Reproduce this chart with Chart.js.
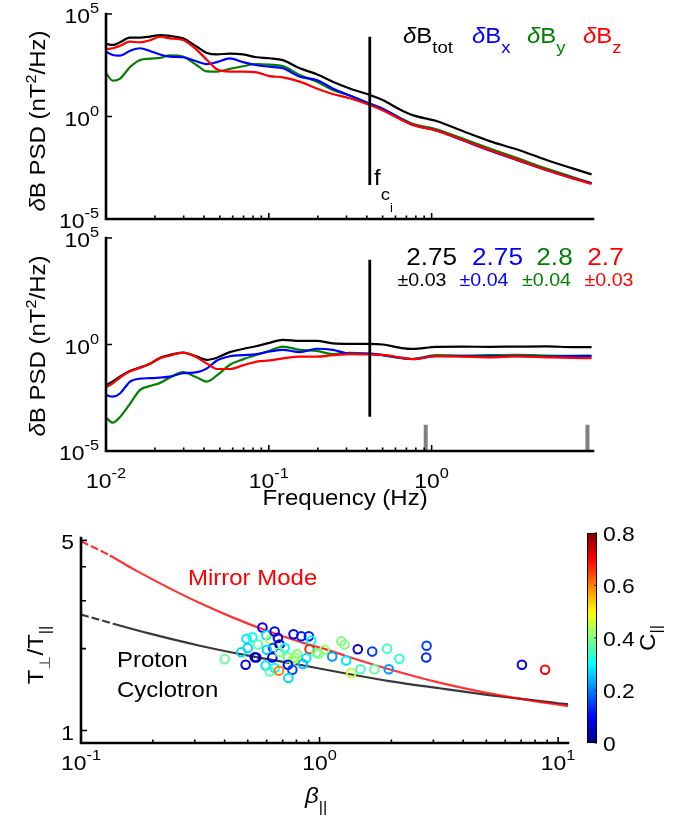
<!DOCTYPE html>
<html>
<head>
<meta charset="utf-8">
<script src="https://cdn.jsdelivr.net/npm/chart.js@4.4.1/dist/chart.umd.min.js"></script>
<style>
  html, body { margin: 0; padding: 0; background: #fff; }
  #wrap { position: relative; width: 694px; height: 821px; overflow: hidden; }
  #wrap canvas { position: absolute; left: 0; }
</style>
</head>
<body>
<div id="wrap">
  <canvas id="psdChart" width="694" height="240" style="top:0px"></canvas>
  <canvas id="compChart" width="694" height="300" style="top:220px"></canvas>
  <canvas id="anisoChart" width="694" height="301" style="top:520px"></canvas>
</div>
<script>
// frequency grid (Hz) shared by the spectra
const freq = [0.01, 0.011, 0.0122, 0.014, 0.0162, 0.0186, 0.0215, 0.0247, 0.0297, 0.0362, 0.0417, 0.048,
  0.0577, 0.0693, 0.0844, 0.101, 0.122, 0.155, 0.197, 0.247, 0.314, 0.417, 0.5, 0.636, 0.764, 1.07,
  1.55, 2.27, 3.32, 5.08, 7.33, 9.6];

// magnetic field PSD (nT^2/Hz)
const psdTot = [3470, 3090, 4170, 7080, 7080, 7940, 9330, 8510, 6460, 2510, 1260, 1070,
  1170, 1070, 776, 692, 562, 224, 115, 50.1, 23.4, 11.2, 6.31, 2.24, 1.17, 0.603,
  0.195, 0.0631, 0.0251, 0.00759, 0.00295, 0.00151];
const psdX = [1450, 1000, 933, 1580, 2140, 1580, 1050, 832, 776, 479, 355, 447,
  692, 447, 316, 269, 224, 87.1, 60.3, 23.4, 10.5, 4.17, 2.40, 0.832, 0.398, 0.209,
  0.0692, 0.0219, 0.00759, 0.0024, 0.001, 0.00055];
const psdY = [129, 56.2, 70.8, 251, 575, 661, 724, 955, 832, 316, 158, 155,
  209, 282, 363, 339, 288, 105, 50.1, 19.5, 10.5, 4.17, 2.40, 0.871, 0.437, 0.240,
  0.0832, 0.0275, 0.00955, 0.00288, 0.00112, 0.000575];
const psdZ = [1910, 2140, 2820, 4470, 4170, 5250, 7760, 6460, 5370, 1740, 575, 200,
  155, 155, 141, 93.3, 81.3, 50.1, 23.4, 12.6, 7.76, 3.63, 2.0, 0.759, 0.389, 0.204,
  0.0708, 0.0234, 0.00813, 0.00245, 0.000955, 0.000513];

// compensated spectra
const compTot = [0.0126, 0.0182, 0.0316, 0.0575, 0.0832, 0.126, 0.240, 0.324, 0.417, 0.269, 0.191, 0.240,
  0.437, 0.617, 0.851, 1.20, 1.66, 1.48, 1.48, 1.12, 1.07, 1.07, 1.0, 0.708, 0.617, 0.776,
  0.794, 0.776, 0.794, 0.813, 0.759, 0.759];
const compX = [0.00427, 0.00355, 0.00501, 0.0178, 0.0251, 0.0263, 0.0282, 0.0309, 0.0447, 0.0501, 0.0759, 0.178,
  0.282, 0.316, 0.355, 0.468, 0.562, 0.437, 0.631, 0.562, 0.372, 0.372, 0.316, 0.240, 0.209, 0.282,
  0.282, 0.275, 0.282, 0.269, 0.282, 0.282];
const compY = [0.000372, 0.000214, 0.000398, 0.00158, 0.00741, 0.0112, 0.0158, 0.0282, 0.0501, 0.0282, 0.0182, 0.0355,
  0.112, 0.200, 0.331, 0.501, 0.794, 0.562, 0.501, 0.355, 0.407, 0.363, 0.316, 0.234, 0.209, 0.316,
  0.302, 0.316, 0.331, 0.302, 0.295, 0.302];
const compZ = [0.00955, 0.0151, 0.0282, 0.0537, 0.0794, 0.120, 0.229, 0.302, 0.417, 0.245, 0.126, 0.0708,
  0.0708, 0.105, 0.158, 0.178, 0.224, 0.269, 0.269, 0.316, 0.355, 0.339, 0.324, 0.251, 0.204, 0.282,
  0.269, 0.251, 0.275, 0.251, 0.234, 0.229];

// ion cyclotron frequency marker and fit range
const fci = 0.417;
const fciSpanPsd = [7.7e3, 4.6e-4];
const fciSpanComp = [9.6e3, 4.1e-4];
const fitRange = [0.92, 9.06];
const fitMarkTop = 1.7e-4;

// fitted spectral indices
const slopeNames = ['tot', 'x', 'y', 'z'];
const slopeValues = ['2.75', '2.75', '2.8', '2.7'];
const slopeErrors = ['0.03', '0.04', '0.04', '0.03'];
const seriesColors = ['#000000', '#0000ff', '#008000', '#ff0000'];

// instability thresholds
const mirrorBeta = [0.1, 0.132, 0.166, 0.228, 0.315, 0.434, 0.598, 0.825, 1.14, 1.29, 1.96, 3.18, 5.14, 6.87, 10, 11];
const mirrorRatio = [4.96, 4.40, 3.92, 3.38, 2.94, 2.60, 2.33, 2.12, 1.95, 1.88, 1.68, 1.50, 1.37, 1.31, 1.245, 1.23];
const cycloBeta = [0.1, 0.1365, 0.1945, 0.315, 0.51, 0.825, 1.29, 1.96, 3.18, 5.14, 6.87, 10, 11];
const cycloRatio = [2.67, 2.47, 2.27, 2.05, 1.88, 1.745, 1.62, 1.52, 1.43, 1.35, 1.31, 1.26, 1.25];

// observed intervals: beta_par, T_perp/T_par, C_par
const obsBeta = [0.40, 0.49, 0.47, 0.494, 0.523, 0.50, 0.552, 0.543, 0.535, 0.576, 0.598, 0.622, 0.648, 0.669,
  0.638, 0.602, 0.634, 0.68, 0.714, 0.68, 0.737, 0.786, 0.804, 0.773, 0.594, 0.618, 0.648, 0.676,
  0.737, 0.769, 0.74, 0.778, 0.838, 0.902, 0.923, 0.908, 0.88, 0.851, 0.969, 1.049, 1.233, 1.272,
  1.13, 1.293, 1.446, 1.357, 1.484, 1.662, 1.699, 1.92, 1.95, 2.16, 2.81, 2.80, 7.05, 8.82, 0.99];
const obsRatio = [1.83, 1.745, 1.94, 2.175, 2.20, 2.01, 2.07, 1.856, 1.86, 2.39, 2.24, 2.16, 2.31, 2.19,
  2.01, 1.98, 1.856, 2.07, 2.01, 1.94, 1.856, 1.856, 1.91, 1.82, 1.735, 1.648, 1.697, 1.658,
  1.745, 1.673, 1.559, 2.26, 2.22, 2.22, 2.14, 1.99, 1.846, 1.755, 1.93, 1.98, 2.13, 2.07,
  1.87, 1.81, 1.99, 1.626, 1.68, 1.95, 1.68, 2.0, 1.68, 1.835, 2.05, 1.856, 1.745, 1.673, 1.915];
const obsCpar = [0.38, 0.08, 0.27, 0.28, 0.30, 0.27, 0.37, 0.03, 0.05, 0.10, 0.28, 0.45, 0.08, 0.10,
  0.15, 0.27, 0.10, 0.05, 0.30, 0.40, 0.38, 0.40, 0.40, 0.45, 0.28, 0.37, 0.30, 0.60,
  0.10, 0.15, 0.27, 0.08, 0.12, 0.12, 0.30, 0.68, 0.28, 0.25, 0.38, 0.42, 0.40, 0.40,
  0.22, 0.28, 0.05, 0.45, 0.35, 0.15, 0.38, 0.35, 0.22, 0.33, 0.15, 0.13, 0.08, 0.70, 0.40];

// axis ticks
const freqTicks = [0.01, 0.1, 1];
const freqTickExp = ['-2', '-1', '0'];
const psdTicks = [1e-5, 1, 1e5];
const psdTickExp = ['-5', '0', '5'];
const betaTicks = [0.1, 1, 10];
const betaTickExp = ['-1', '0', '1'];
const ratioTicks = [1, 5];
const ratioMinor = [2, 3, 4];
const cparTicks = [0, 0.2, 0.4, 0.6, 0.8];
const cparMax = 0.8;

const FONT = '"Liberation Sans", Arial, Helvetica, sans-serif';
const SX = 1.09; // glyphs are drawn a bit wider than Arial

function minorDecades(lo, hi) {
  const out = [];
  for (let d = lo; d < hi; d *= 10) {
    for (let k = 2; k <= 9; k++) out.push(k * d);
  }
  return out;
}

function jet(v) {
  const c = x => Math.max(0, Math.min(1, x));
  const r = c(1.5 - Math.abs(4 * v - 3));
  const g = c(1.5 - Math.abs(4 * v - 2));
  const b = c(1.5 - Math.abs(4 * v - 1));
  return 'rgb(' + Math.round(r * 255) + ',' + Math.round(g * 255) + ',' + Math.round(b * 255) + ')';
}

// rich text: list of runs {t, size, dy, italic, color}
function runFont(r) {
  return (r.italic ? 'italic ' : '') + r.size + 'px ' + FONT;
}
function drawRuns(ctx, runs, x, y, align, color, rotate) {
  ctx.save();
  ctx.translate(x, y);
  if (rotate) ctx.rotate(-Math.PI / 2);
  ctx.scale(SX, 1);
  ctx.textBaseline = 'alphabetic';
  ctx.textAlign = 'left';
  let w = 0;
  runs.forEach(r => { ctx.font = runFont(r); w += ctx.measureText(r.t).width + (r.gap || 0); });
  let cx = align === 'center' ? -w / 2 : align === 'right' ? -w : 0;
  runs.forEach(r => {
    ctx.font = runFont(r);
    ctx.fillStyle = r.color || color || '#000';
    ctx.fillText(r.t, cx, r.dy || 0);
    cx += ctx.measureText(r.t).width + (r.gap || 0);
  });
  ctx.restore();
}
const pow10 = e => [{ t: '10', size: 21 }, { t: e, size: 15, dy: -10 }];

// axes drawn MATLAB style: left + bottom lines, inward ticks, custom labels
function axesDecor(spec) {
  return {
    id: 'axesDecor',
    afterDraw(chart) {
      const ctx = chart.ctx;
      const { left, right, top, bottom } = chart.chartArea;
      const xs = chart.scales.x, ys = chart.scales.y;
      ctx.save();
      ctx.strokeStyle = '#000';
      ctx.lineWidth = 1.6;
      ctx.beginPath();
      spec.xMajor.forEach(v => { const p = xs.getPixelForValue(v); ctx.moveTo(p, bottom); ctx.lineTo(p, bottom - 6); });
      spec.xMinor.forEach(v => { const p = xs.getPixelForValue(v); ctx.moveTo(p, bottom); ctx.lineTo(p, bottom - 3.5); });
      spec.yMajor.forEach(v => { const p = ys.getPixelForValue(v); ctx.moveTo(left, p); ctx.lineTo(left + 6, p); });
      (spec.yMinor || []).forEach(v => { const p = ys.getPixelForValue(v); ctx.moveTo(left, p); ctx.lineTo(left + 5, p); });
      ctx.stroke();
      ctx.lineWidth = 2.6;
      ctx.lineCap = 'square';
      ctx.beginPath();
      ctx.moveTo(left, top);
      ctx.lineTo(left, bottom);
      ctx.lineTo(right, bottom);
      ctx.stroke();
      ctx.lineCap = 'butt';
      (spec.yLabels || []).forEach(([v, runs]) => {
        drawRuns(ctx, runs, left - 7, ys.getPixelForValue(v) + 9, 'right');
      });
      (spec.xLabels || []).forEach(([v, runs]) => {
        drawRuns(ctx, runs, xs.getPixelForValue(v), bottom + spec.xLabelDrop, 'center');
      });
      (spec.texts || []).forEach(t => {
        drawRuns(ctx, t.runs, t.x, t.y - spec.offset, t.align || 'left', t.color, t.rotate);
      });
      if (spec.extra) spec.extra(chart, ctx);
      ctx.restore();
    }
  };
}

function curve(xs, ys, color, width) {
  return {
    data: xs.map((x, i) => ({ x: x, y: ys[i] })),
    borderColor: color,
    borderWidth: width,
    pointRadius: 0,
    fill: false,
    cubicInterpolationMode: 'monotone'
  };
}
function stick(x, span, color, width) {
  return {
    data: [{ x: x, y: span[0] }, { x: x, y: span[1] }],
    borderColor: color,
    borderWidth: width,
    pointRadius: 0,
    fill: false
  };
}

function psdOptions(padTop, xHeight) {
  return {
    responsive: false,
    animation: false,
    events: [],
    layout: { padding: { top: padTop, right: 101, left: 0, bottom: 0 } },
    plugins: { legend: { display: false }, tooltip: { enabled: false } },
    scales: {
      x: {
        type: 'logarithmic', min: 0.01, max: 9.8,
        grid: { display: false }, border: { display: false }, ticks: { display: false },
        afterFit: s => { s.height = xHeight; }
      },
      y: {
        type: 'logarithmic', min: 1e-5, max: 1e5,
        grid: { display: false }, border: { display: false }, ticks: { display: false },
        afterFit: s => { s.width = 106; }
      }
    }
  };
}

const psdTitle = [
  { t: '\u03b4', size: 22, italic: true },
  { t: 'B PSD (nT', size: 22 },
  { t: '2', size: 15, dy: -9 },
  { t: '/Hz)', size: 22 }
];
const freqMinor = minorDecades(0.01, 1);

// --- top panel: raw spectra ---
const legendRuns = [];
slopeNames.forEach((n, i) => {
  legendRuns.push({
    x: [403, 472, 527, 583][i], y: 43, color: seriesColors[i],
    runs: [{ t: '\u03b4', size: 22, italic: true }, { t: 'B', size: 22 }, { t: n, size: 17, dy: 10 }]
  });
});

new Chart(document.getElementById('psdChart'), {
  type: 'line',
  data: {
    datasets: [
      stick(fci, fciSpanPsd, '#000', 2.8),
      curve(freq, psdZ, seriesColors[3], 2.2),
      curve(freq, psdX, seriesColors[1], 2.2),
      curve(freq, psdY, seriesColors[2], 2.2),
      curve(freq, psdTot, seriesColors[0], 2.2)
    ]
  },
  options: psdOptions(14, 21),
  plugins: [axesDecor({
    offset: 0,
    xMajor: freqTicks, xMinor: freqMinor,
    yMajor: psdTicks,
    yLabels: psdTicks.map((v, i) => [v, pow10(psdTickExp[i])]),
    texts: legendRuns.concat([
      { x: 45, y: 121, rotate: true, align: 'center', runs: psdTitle },
      { x: 374, y: 185, runs: [{ t: 'f', size: 22 }, { t: 'c', size: 17, dy: 15 }, { t: 'i', size: 12, dy: 27 }] }
    ])
  })]
});

// --- middle panel: compensated spectra ---
const slopeTexts = [];
slopeValues.forEach((v, i) => {
  slopeTexts.push({ x: [431.7, 497.5, 554.5, 605.5][i], y: 265, align: 'center', color: seriesColors[i], runs: [{ t: v, size: 24 }] });
  slopeTexts.push({ x: [422, 484, 546.5, 609][i], y: 286, align: 'center', color: seriesColors[i], runs: [{ t: '\u00b1' + slopeErrors[i], size: 18 }] });
});

new Chart(document.getElementById('compChart'), {
  type: 'line',
  data: {
    datasets: [
      stick(fci, fciSpanComp, '#000', 2.8),
      stick(fitRange[0], [fitMarkTop, 1e-5], '#808080', 4),
      stick(fitRange[1], [fitMarkTop, 1e-5], '#808080', 4),
      curve(freq, compZ, seriesColors[3], 2.2),
      curve(freq, compX, seriesColors[1], 2.2),
      curve(freq, compY, seriesColors[2], 2.2),
      curve(freq, compTot, seriesColors[0], 2.2)
    ]
  },
  options: psdOptions(18, 69),
  plugins: [axesDecor({
    offset: 220,
    xMajor: freqTicks, xMinor: freqMinor,
    yMajor: psdTicks,
    yLabels: psdTicks.map((v, i) => [v, pow10(psdTickExp[i])]),
    xLabels: freqTicks.map((v, i) => [v, pow10(freqTickExp[i])]),
    xLabelDrop: 37,
    texts: slopeTexts.concat([
      { x: 45, y: 346, rotate: true, align: 'center', runs: psdTitle },
      { x: 345, y: 505, align: 'center', runs: [{ t: 'Frequency (Hz)', size: 22 }] }
    ])
  })]
});

// --- bottom panel: anisotropy vs beta ---
function drawColorbar(chart, ctx) {
  const x = 587, w = 10, top = 533 - 520, bottom = 743 - 520;
  const grad = ctx.createLinearGradient(0, bottom, 0, top);
  for (let i = 0; i <= 32; i++) grad.addColorStop(i / 32, jet(i / 32));
  ctx.fillStyle = grad;
  ctx.fillRect(x, top, w, bottom - top);
  ctx.strokeStyle = '#000';
  ctx.lineWidth = 1;
  ctx.strokeRect(x + 0.5, top + 0.5, w - 1, bottom - top - 1);
  ctx.beginPath();
  cparTicks.forEach(v => {
    const py = bottom - (v / cparMax) * (bottom - top);
    ctx.moveTo(x + w, py); ctx.lineTo(x + w - 2.5, py);
    drawRuns(ctx, [{ t: String(v), size: 21 }], 603, py + 7.5, 'left');
  });
  ctx.stroke();
  drawRuns(ctx, [{ t: 'C', size: 22 }, { t: '||', size: 15, dy: 6 }], 655, 638 - 520, 'center', '#000', true);
}

const dashStart = c => (c.p1.parsed.x < 0.14 ? [8, 3] : undefined);

new Chart(document.getElementById('anisoChart'), {
  type: 'scatter',
  data: {
    datasets: [
      {
        data: obsBeta.map((b, i) => ({ x: b, y: obsRatio[i] })),
        pointRadius: 4.3,
        pointBorderWidth: 2,
        pointBackgroundColor: 'rgba(0,0,0,0)',
        pointBorderColor: obsCpar.map(c => jet(c / cparMax))
      },
      Object.assign(curve(mirrorBeta, mirrorRatio, 'rgba(255,0,0,0.8)', 2.2), { showLine: true, segment: { borderDash: dashStart } }),
      Object.assign(curve(cycloBeta, cycloRatio, 'rgba(0,0,0,0.78)', 2.2), { showLine: true, segment: { borderDash: dashStart } })
    ]
  },
  options: {
    responsive: false,
    animation: false,
    events: [],
    layout: { padding: { top: 18, right: 126, left: 0, bottom: 0 } },
    plugins: { legend: { display: false }, tooltip: { enabled: false } },
    scales: {
      x: {
        type: 'logarithmic', min: 0.1, max: 11,
        grid: { display: false }, border: { display: false }, ticks: { display: false },
        afterFit: s => { s.height = 78; }
      },
      y: {
        type: 'logarithmic', min: 0.9, max: 5.1,
        grid: { display: false }, border: { display: false }, ticks: { display: false },
        afterFit: s => { s.width = 81; }
      }
    }
  },
  plugins: [axesDecor({
    offset: 520,
    xMajor: betaTicks, xMinor: minorDecades(0.1, 10),
    yMajor: ratioTicks, yMinor: ratioMinor,
    yLabels: ratioTicks.map(v => [v, [{ t: String(v), size: 21 }]]),
    xLabels: betaTicks.map((v, i) => [v, pow10(betaTickExp[i])]),
    xLabelDrop: 27,
    texts: [
      { x: 188, y: 585, color: '#ff0000', runs: [{ t: 'Mirror Mode', size: 22 }] },
      { x: 117, y: 667, runs: [{ t: 'Proton', size: 22 }] },
      { x: 117, y: 697, runs: [{ t: 'Cyclotron', size: 22 }] },
      { x: 305, y: 803, runs: [{ t: '\u03b2', size: 22, italic: true }, { t: '||', size: 15, dy: 9 }] },
      { x: 43, y: 655, rotate: true, align: 'center', runs: [
        { t: 'T', size: 22 }, { t: '\u22a5', size: 15, dy: 7, color: '#555' }, { t: '/T', size: 22 }, { t: '||', size: 15, dy: 7 }
      ] }
    ],
    extra: drawColorbar
  })]
});
</script>
</body>
</html>
